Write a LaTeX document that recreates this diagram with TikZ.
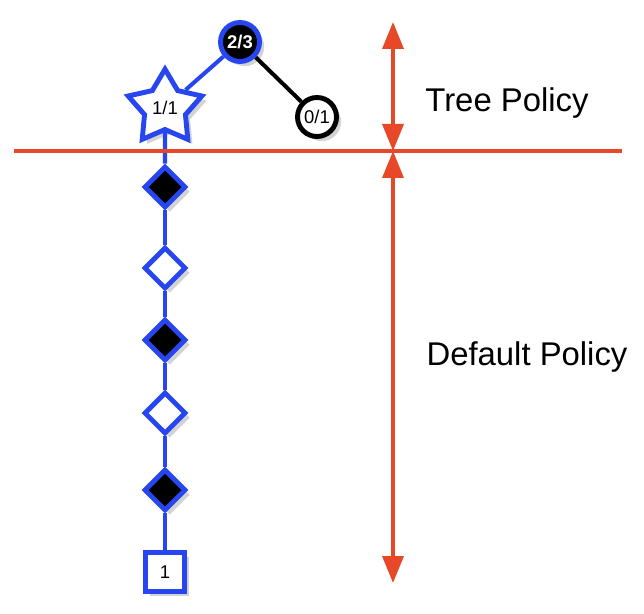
\documentclass[tikz,border=0pt]{standalone}
\usepackage{fontspec}
\setmainfont{Liberation Sans}
\usepackage{xcolor}
\usepackage{tikz}
\usetikzlibrary{positioning,arrows.meta,shapes.geometric,shadows}
\definecolor{treeblue}{RGB}{40,70,240}
\definecolor{policyred}{RGB}{230,72,40}

\begin{document}
\begin{tikzpicture}[visit/.style={circle, draw=treeblue, line width=2.8pt, fill=black, text=white, font=\fontsize{10.5}{11}\selectfont\bfseries, inner sep=0pt, minimum size=0.78cm, drop shadow={opacity=0.35}}, unvisited/.style={circle, draw=black, line width=2.8pt, fill=white, font=\fontsize{10.5}{11}\selectfont, inner sep=0pt, minimum size=0.78cm, drop shadow={opacity=0.35}}, newleaf/.style={star, star points=5, star point ratio=1.8, draw=treeblue, line width=2.8pt, fill=white, font=\fontsize{10.5}{11}\selectfont, inner sep=0pt, minimum size=1.55cm, drop shadow={opacity=0.35}}, movebox/.style={diamond, draw=treeblue, line width=2.8pt, inner sep=0pt, minimum size=0.84cm, drop shadow={opacity=0.35}}, endbox/.style={rectangle, draw=treeblue, line width=2.8pt, fill=white, font=\fontsize{10.5}{11}\selectfont, inner sep=0pt, minimum size=0.78cm, drop shadow={opacity=0.35}}, link/.style={line width=2.3pt}, spanarrow/.style={{Triangle[length=5.4mm,width=4.2mm]}-{Triangle[length=5.4mm,width=4.2mm]}, policyred, line width=2pt}, phase/.style={font=\fontsize{18.7}{20}\selectfont}]
\useasboundingbox (0,0) rectangle (12.88,12.26);
% tree part
\node[visit] (root) at (4.8,11.42) {2/3};
\node[newleaf] (leaf) at (3.3,10.1) {1/1};
\node[unvisited] (other) at (6.34,9.92) {0/1};
% rollout part
\node[movebox, fill=black] (m1) at (3.3,8.52) {};
\node[movebox, fill=white] (m2) at (3.3,6.9) {};
\node[movebox, fill=black] (m3) at (3.3,5.46) {};
\node[movebox, fill=white] (m4) at (3.3,4.0) {};
\node[movebox, fill=black] (m5) at (3.3,2.46) {};
\node[endbox] (result) at (3.3,0.82) {1};
\draw[link, treeblue] (root) -- (leaf);
\draw[link, black] (root) -- (other);
\draw[link, treeblue] (leaf) -- (m1);
\draw[link, treeblue] (m1) -- (m2);
\draw[link, treeblue] (m2) -- (m3);
\draw[link, treeblue] (m3) -- (m4);
\draw[link, treeblue] (m4) -- (m5);
\draw[link, treeblue] (m5) -- (result);
% phase markers
\coordinate (lineL) at (0.28,9.24);
\coordinate (lineR) at (12.44,9.24);
\coordinate (split) at (7.86,9.24);
\coordinate (top) at (7.86,11.82);
\coordinate (bottom) at (7.86,0.6);
\draw[policyred, line width=2pt] (lineL) -- (lineR);
\draw[spanarrow] (top) -- (split);
\draw[spanarrow] (split) -- (bottom);
\node[phase] (treelabel) at (10.14,10.2) {Tree Policy};
\node[phase] (defaultlabel) at (10.54,5.12) {Default Policy};
\end{tikzpicture}
\end{document}
